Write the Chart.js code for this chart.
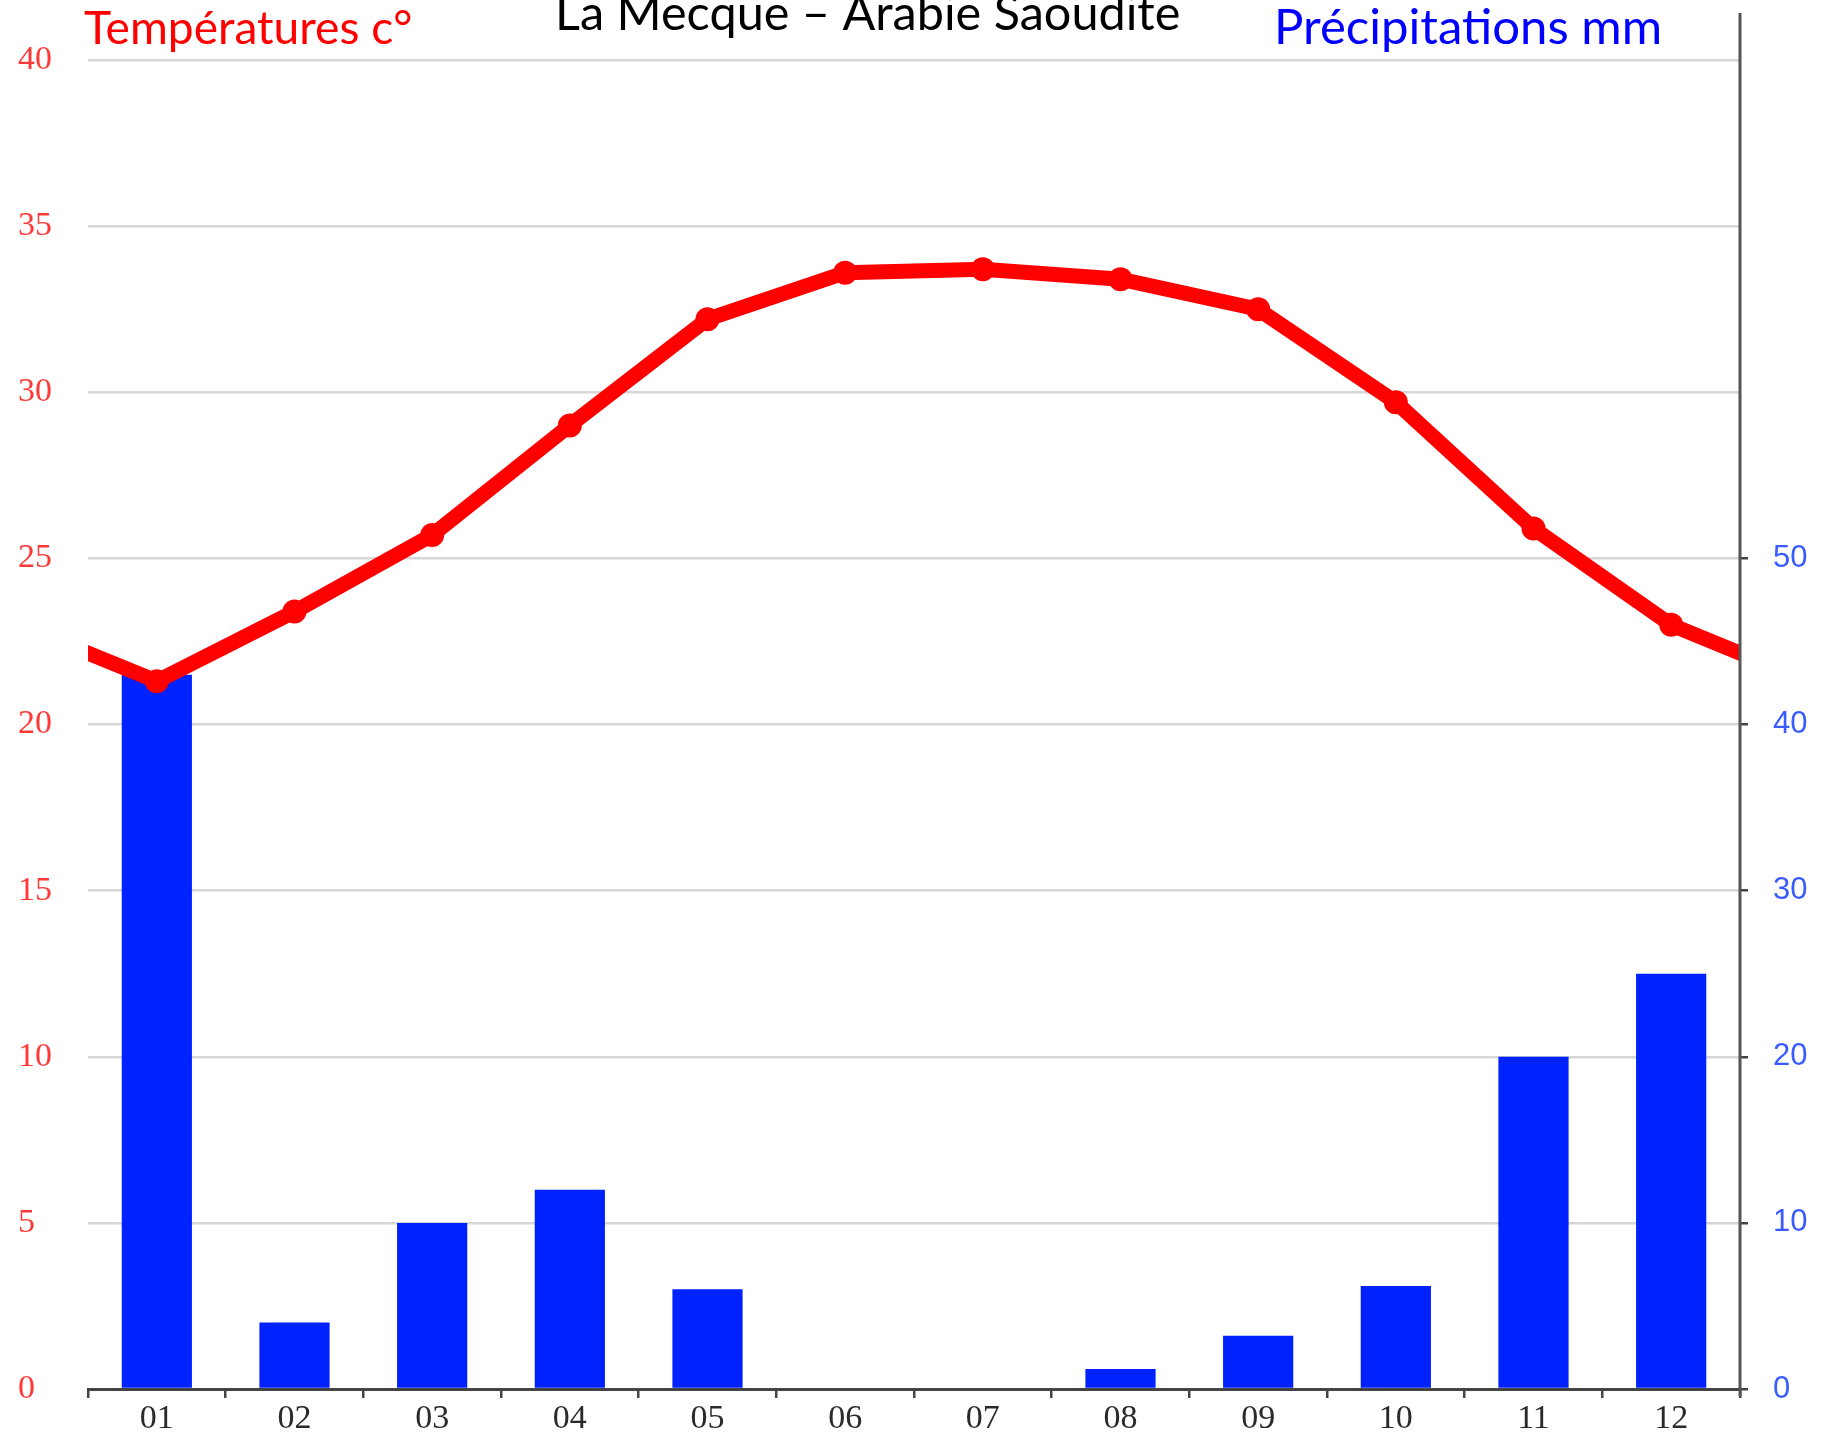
<!DOCTYPE html>
<html>
<head>
<meta charset="utf-8">
<script src="https://cdn.jsdelivr.net/npm/chart.js@4.4.1/dist/chart.umd.min.js"></script>
<style>
  html, body { margin: 0; padding: 0; background: #fff; }
  #wrap { width: 1832px; height: 1447px; position: relative; }
</style>
</head>
<body>
<div id="wrap"><canvas id="myChart"></canvas></div>
<script>
const months = ['01', '02', '03', '04', '05', '06', '07', '08', '09', '10', '11', '12'];
const temperature = [21.3, 23.4, 25.7, 29.0, 32.2, 33.6, 33.7, 33.4, 32.5, 29.7, 25.9, 23.0];
const precipitation = [43, 4, 10, 12, 6, 0, 0, 1.2, 3.2, 6.2, 20, 25];
const tempTicks = [0, 5, 10, 15, 20, 25, 30, 35, 40];
const precipTicks = [0, 10, 20, 30, 40, 50];

// line wraps round the year: december before january, january after december
const tempPoints = [{x: 0, y: temperature[11]}]
    .concat(temperature.map((t, i) => ({x: i + 1, y: t})))
    .concat([{x: 13, y: temperature[0]}]);

// draw text squeezed/stretched to a given width
function fitText(c, text, x, y, w) {
    c.font = '44px Lato';
    const size = 44 * w / c.measureText(text).width;
    c.font = size.toFixed(1) + 'px Lato';
    c.fillText(text, x, y);
}

const titles = {
    id: 'titles',
    afterDraw(chart) {
        const c = chart.ctx;
        const area = chart.chartArea;
        c.save();
        // right axis line, taller than the plot
        c.strokeStyle = '#555';
        c.lineWidth = 3;
        c.beginPath();
        c.moveTo(area.right, 13);
        c.lineTo(area.right, area.bottom + 7);
        c.stroke();

        c.textBaseline = 'alphabetic';
        c.textAlign = 'left';
        c.fillStyle = '#ff0000';
        fitText(c, 'Températures c°', 84, 44, 328);
        c.fillStyle = '#000';
        fitText(c, 'La Mecque – Arabie Saoudite', 555, 30, 625);
        c.fillStyle = '#0000ff';
        fitText(c, 'Précipitations mm', 1274, 44, 388);
        c.restore();
    }
};

const ctx = document.getElementById('myChart').getContext('2d');

const myChart = new Chart(ctx, {
    type: 'bar',
    data: {
        labels: months,
        datasets: [{
            type: 'line',
            label: 'Températures',
            data: tempPoints,
            xAxisID: 'xLine',
            yAxisID: 'y',
            borderColor: '#ff0000',
            backgroundColor: '#ff0000',
            borderWidth: 15,
            pointRadius: 12,
            pointBorderWidth: 0,
            tension: 0,
            clip: 0,
            order: 0
        }, {
            label: 'Précipitations',
            data: precipitation,
            xAxisID: 'x',
            yAxisID: 'y2',
            backgroundColor: '#0022ff',
            grouped: false,
            categoryPercentage: 1,
            barPercentage: 0.51,
            order: 1
        }]
    },
    options: {
        responsive: true,
        maintainAspectRatio: false,
        animation: false,
        layout: {padding: {left: 18, top: 60, right: 0, bottom: 0}},
        plugins: {legend: {display: false}, tooltip: {enabled: false}},
        scales: {
            x: {
                type: 'category',
                offset: true,
                afterFit(s) { s.height = 58; },
                grid: {offset: true, drawOnChartArea: false, drawTicks: true, tickLength: 9, color: '#444', lineWidth: 2.5},
                border: {color: '#444', width: 3},
                ticks: {color: '#2a2a2a', font: {family: 'Liberation Serif', size: 34}, padding: 1}
            },
            xLine: {
                type: 'linear',
                display: false,
                offset: false,
                min: 0.5,
                max: 12.5
            },
            y: {
                position: 'left',
                min: tempTicks[0],
                max: tempTicks[tempTicks.length - 1],
                afterBuildTicks(s) { s.ticks = tempTicks.map(v => ({value: v})); },
                afterFit(s) { s.width = 70; },
                grid: {color: '#d6d6d6', lineWidth: 2.5, drawTicks: false},
                border: {display: false},
                ticks: {color: '#ff3838', font: {family: 'Liberation Serif', size: 34}, crossAlign: 'far', padding: 0}
            },
            y2: {
                position: 'right',
                min: 0,
                max: 80,
                afterBuildTicks(s) { s.ticks = precipTicks.map(v => ({value: v})); },
                afterFit(s) { s.width = 92; },
                grid: {drawOnChartArea: false, drawTicks: true, tickLength: 8, color: '#444', lineWidth: 2.5},
                border: {display: false},
                ticks: {color: '#3a5cff', font: {family: 'Liberation Sans', size: 31}, padding: 25}
            }
        }
    },
    plugins: [titles]
});
</script>
</body>
</html>
